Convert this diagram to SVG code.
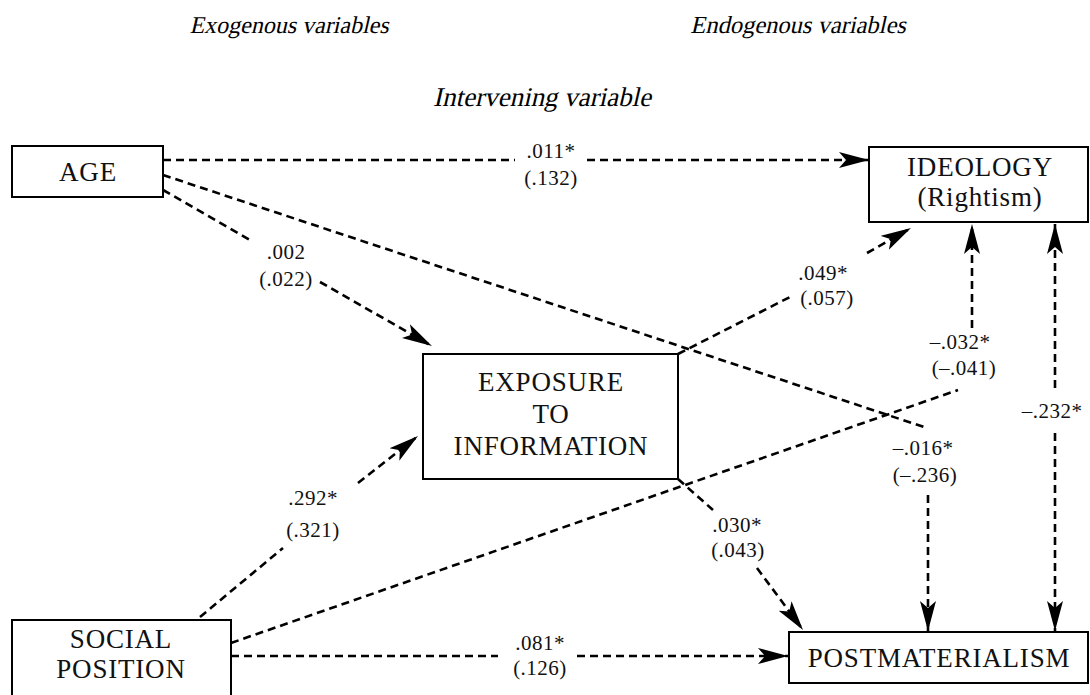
<svg xmlns="http://www.w3.org/2000/svg" width="1090" height="695" viewBox="0 0 1090 695">
<style>
.box{fill:#fff;stroke:#000;stroke-width:2}
.nt{font-family:"Liberation Serif",serif;font-size:27px;letter-spacing:0.8px;text-anchor:middle;fill:#111}
.el{font-family:"Liberation Serif",serif;font-size:21px;letter-spacing:0.5px;text-anchor:middle;fill:#111}
.tt{font-family:"Liberation Serif",serif;font-size:24px;text-anchor:middle;fill:#000}
.c{fill:none;stroke:#000;stroke-width:2.6;stroke-dasharray:8 5}
</style>
<defs>
<marker id="ah" markerUnits="userSpaceOnUse" markerWidth="32" markerHeight="18" refX="30" refY="9" orient="auto-start-reverse">
<path d="M0,1 L30,9 L0,17 L7,9 z" fill="#000"/>
</marker>
</defs>
<g id="titles">
<text class="tt" transform="translate(289,33) skewX(-13)">Exogenous variables</text>
<text class="tt" transform="translate(798,33) skewX(-13)" style="font-size:24.5px">Endogenous variables</text>
<text class="tt" transform="translate(542,106) skewX(-13)" style="font-size:27px">Intervening variable</text>
</g>
<g id="connectors">
<path class="c" d="M163,160 L515,160 M587,160 L869,160" marker-end="url(#ah)"/>
<path class="c" d="M163,190 L250,240 M320,282 L432,346" marker-end="url(#ah)"/>
<path class="c" d="M163,175 L927,428 M928,495 L928,631" marker-end="url(#ah)"/>
<path class="c" d="M231,643 L958,390 M972,328 L972,224" marker-end="url(#ah)"/>
<path class="c" d="M678,354 L790,297 M867,253 L911,228" marker-end="url(#ah)"/>
<path class="c" d="M678,479 L713,510 M757,568 L803,630" marker-end="url(#ah)"/>
<path class="c" d="M200,617 L283,548 M358,483 L418,436" marker-end="url(#ah)"/>
<path class="c" d="M231,656 L498,656 M577,656 L788,656" marker-end="url(#ah)"/>
<path class="c" d="M1055,224 L1055,390" marker-start="url(#ah)"/>
<path class="c" d="M1055,433 L1055,631" marker-end="url(#ah)"/>
<g id="edge-labels">
<text class="el" x="551" y="158">.011*</text>
<text class="el" x="551" y="185">(.132)</text>
<text class="el" x="286" y="259">.002</text>
<text class="el" x="286" y="286">(.022)</text>
<text class="el" x="823" y="280">.049*</text>
<text class="el" x="827" y="305">(.057)</text>
<text class="el" x="960" y="349">–.032*</text>
<text class="el" x="964" y="375">(–.041)</text>
<text class="el" x="1052" y="418">–.232*</text>
<text class="el" x="923" y="455">–.016*</text>
<text class="el" x="925" y="482">(–.236)</text>
<text class="el" x="313" y="505">.292*</text>
<text class="el" x="313" y="537">(.321)</text>
<text class="el" x="737" y="532">.030*</text>
<text class="el" x="738" y="557">(.043)</text>
<text class="el" x="540" y="650">.081*</text>
<text class="el" x="540" y="675">(.126)</text>
</g>
</g>
<g id="age">
<rect class="box" x="12" y="146" width="151" height="51"/>
<text class="nt" x="88" y="181">AGE</text>
</g>
<g id="ideology">
<rect class="box" x="869" y="147" width="219" height="75"/>
<text class="nt" x="980" y="176">IDEOLOGY</text>
<text class="nt" x="980" y="206">(Rightism)</text>
</g>
<g id="exposure">
<rect class="box" x="423" y="354" width="255" height="125"/>
<text class="nt" x="551" y="391">EXPOSURE</text>
<text class="nt" x="551" y="423">TO</text>
<text class="nt" x="551" y="455">INFORMATION</text>
</g>
<g id="social">
<rect class="box" x="12" y="620" width="219" height="85"/>
<text class="nt" x="121" y="648">SOCIAL</text>
<text class="nt" x="121" y="678">POSITION</text>
</g>
<g id="postmaterialism">
<rect class="box" x="789" y="632" width="299" height="51"/>
<text class="nt" x="939" y="667">POSTMATERIALISM</text>
</g>
</svg>
